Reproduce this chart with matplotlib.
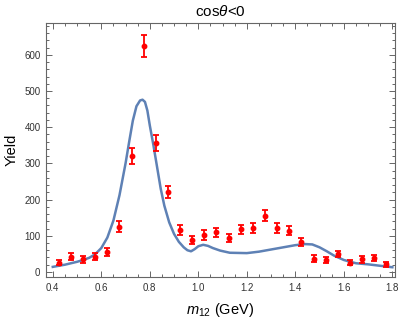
import matplotlib
matplotlib.use("Agg")
import matplotlib.pyplot as plt
from matplotlib.ticker import MultipleLocator

plt.rcParams['font.family'] = ['Liberation Sans', 'DejaVu Sans']
plt.rcParams['mathtext.fontset'] = 'custom'
plt.rcParams['mathtext.it'] = 'Liberation Sans:italic'
plt.rcParams['mathtext.rm'] = 'Liberation Sans'

# Data points (bin centres, yield, error)
m12 = [0.425, 0.475, 0.525, 0.575, 0.625, 0.675, 0.725, 0.775, 0.825, 0.875,
       0.925, 0.975, 1.025, 1.075, 1.125, 1.175, 1.225, 1.275, 1.325, 1.375,
       1.425, 1.475, 1.525, 1.575, 1.625, 1.675, 1.725, 1.775]
yield_vals = [26, 42, 35, 42, 55, 125, 320, 625, 356, 221,
              116, 88, 102, 109, 95, 118, 121, 155, 121, 114,
              82, 37, 33, 50, 26, 35, 38, 21]
yield_err = [8, 10, 9, 10, 12, 15, 22, 31, 22, 16,
             13, 12, 13, 12, 11, 13, 13, 15, 13, 13,
             11, 9, 8, 9, 8, 9, 9, 7]

# Fit curve
curve_x = [0.40, 0.45, 0.50, 0.525, 0.55, 0.575, 0.60, 0.625, 0.65, 0.675,
           0.70, 0.715, 0.73, 0.745, 0.76, 0.77, 0.78, 0.79, 0.80, 0.815,
           0.83, 0.845, 0.86, 0.88, 0.90, 0.92, 0.94, 0.955, 0.97, 0.985,
           1.00, 1.02, 1.04, 1.06, 1.09, 1.13, 1.20, 1.25, 1.30, 1.35,
           1.40, 1.44, 1.47, 1.50, 1.53, 1.56, 1.60, 1.65, 1.70, 1.75, 1.80]
curve_y = [14, 20, 28, 33, 39, 49, 66, 95, 142, 212,
           300, 360, 418, 458, 474, 476, 470, 446, 405, 350,
           290, 230, 183, 137, 105, 83, 68, 60, 57, 63,
           71, 75, 72, 66, 59, 53, 52, 56, 62, 68,
           74, 77, 76, 68, 57, 45, 33, 24, 21, 17, 13]

fig = plt.figure(figsize=(3.99, 3.27), dpi=100)
ax = fig.add_axes([46/399, 1 - 277/327, (395 - 46)/399, (277 - 23)/327])

ax.plot(curve_x, curve_y, color='#5E81B5', lw=1.8, zorder=2,
        solid_joinstyle='round')
ax.errorbar(m12, yield_vals, yerr=yield_err, fmt='o', color='red', ms=3.2,
            elinewidth=1.3, capsize=2.5, capthick=1.3, zorder=3)

ax.set_xlim(0.372, 1.811)
ax.set_ylim(-14, 688)

ax.xaxis.set_major_locator(MultipleLocator(0.2))
ax.xaxis.set_minor_locator(MultipleLocator(0.05))
ax.yaxis.set_major_locator(MultipleLocator(100))
ax.yaxis.set_minor_locator(MultipleLocator(20))
ax.xaxis.set_major_formatter(plt.FuncFormatter(lambda v, p: f"{v:.1f}"))

frame = '#666666'
for s in ax.spines.values():
    s.set_color(frame)
    s.set_linewidth(0.8)
ax.tick_params(which='both', direction='in', top=True, right=True,
               color=frame, labelsize=7, labelcolor='#333333', width=0.7)
ax.tick_params(which='major', length=4, pad=4)
ax.tick_params(which='minor', length=2.2)

ax.set_title(r'cos$\theta$<0', fontsize=11, pad=5)
ax.set_xlabel(r'$m_{12}$ (GeV)', fontsize=10.5, labelpad=6)
ax.set_ylabel('Yield', fontsize=10.5, labelpad=4)

fig.savefig('out.png', dpi=100)
